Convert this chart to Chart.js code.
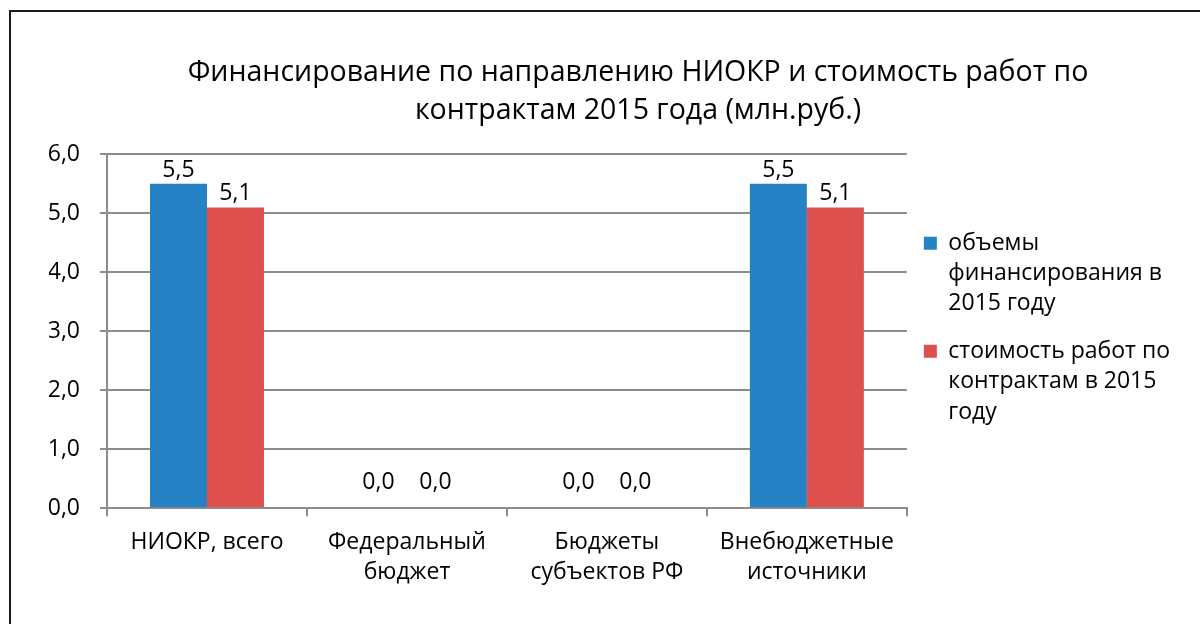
<!DOCTYPE html>
<html>
<head>
<meta charset="utf-8">
<script src="https://cdn.jsdelivr.net/npm/chart.js@4/dist/chart.umd.min.js"></script>
<style>
  html, body { margin: 0; padding: 0; background: #fff; overflow: hidden; }
  #frame { position: absolute; left: 9px; top: 10px; border-left: 2px solid #1a1a1a; border-top: 2px solid #1a1a1a; }
  #box { width: 1254px; height: 612px; }
</style>
</head>
<body>
<div id="frame"><div id="box"><canvas id="chart"></canvas></div></div>
<script>
const categories = [
  ['НИОКР, всего'],
  ['Федеральный', 'бюджет'],
  ['Бюджеты', 'субъектов РФ'],
  ['Внебюджетные', 'источники'],
];
const fundingValues = [5.5, 0.0, 0.0, 5.5];
const contractValues = [5.1, 0.0, 0.0, 5.1];
const seriesNames = ['объемы финансирования в 2015 году', 'стоимость работ по контрактам в 2015 году'];
const legendLines = [
  ['объемы', 'финансирования в', '2015 году'],
  ['стоимость работ по', 'контрактам в 2015', 'году'],
];
const titleLines = ['Финансирование по направлению НИОКР и стоимость работ по', 'контрактам 2015 года (млн.руб.)'];
const yMin = 0, yMax = 6, yStep = 1;

const FONT = "'Open Sans', 'Noto Sans', sans-serif";
const fmt = (v) => Number(v).toFixed(1).replace('.', ',');

// value labels above the bars
const barLabels = {
  id: 'barLabels',
  afterDatasetsDraw(chart) {
    const ctx = chart.ctx;
    ctx.save();
    ctx.font = '23px ' + FONT;
    ctx.fillStyle = '#000';
    ctx.textAlign = 'center';
    ctx.textBaseline = 'alphabetic';
    chart.data.datasets.forEach((ds, i) => {
      chart.getDatasetMeta(i).data.forEach((bar, j) => {
        const v = ds.data[j];
        ctx.fillText(fmt(v), bar.x, bar.y - (v === 0 ? 19 : 7));
      });
    });
    ctx.restore();
  },
};

// title is centred on the whole frame, not on the padded area
const centerTitle = {
  id: 'centerTitle',
  afterLayout(chart) {
    const t = chart.titleBlock;
    if (t) { t.left = 0; t.right = chart.width; t.width = chart.width; }
  },
};

new Chart(document.getElementById('chart'), {
  type: 'bar',
  data: {
    labels: categories,
    datasets: [
      { label: seriesNames[0], data: fundingValues, backgroundColor: '#2582c4', categoryPercentage: 0.57, barPercentage: 1.0 },
      { label: seriesNames[1], data: contractValues, backgroundColor: '#de504e', categoryPercentage: 0.57, barPercentage: 1.0 },
    ],
  },
  options: {
    responsive: true,
    maintainAspectRatio: false,
    animation: false,
    layout: { padding: { left: 38, right: 85, bottom: 26, top: 0 } },
    plugins: {
      tooltip: { enabled: false },
      title: {
        display: true,
        text: titleLines,
        color: '#000',
        font: { family: FONT, size: 28.5, weight: 'normal', lineHeight: 1.34 },
        padding: { top: 42, bottom: 24 },
      },
      legend: {
        position: 'right',
        fullSize: false,
        align: 'center',
        labels: {
          color: '#000',
          font: { family: FONT, size: 23, lineHeight: 1.32 },
          boxWidth: 13,
          boxHeight: 13,
          padding: 17,
          generateLabels(chart) {
            const items = Chart.defaults.plugins.legend.labels.generateLabels(chart);
            items.forEach((it, i) => { it.text = legendLines[i]; it.lineWidth = 0; });
            return items;
          },
        },
      },
    },
    scales: {
      x: {
        grid: { offset: true, drawOnChartArea: false, drawTicks: true, tickLength: 8, color: '#8c8c8c', lineWidth: 2 },
        border: { display: true, color: '#8c8c8c', width: 2 },
        ticks: { color: '#000', font: { family: FONT, size: 23, lineHeight: 1.3 }, maxRotation: 0, autoSkip: false, padding: 11 },
      },
      y: {
        min: yMin,
        max: yMax,
        afterFit(scale) { scale.width = 58; },
        grid: { color: '#8c8c8c', lineWidth: 2, tickLength: 7 },
        border: { display: true, color: '#8c8c8c', width: 2 },
        ticks: { stepSize: yStep, color: '#000', font: { family: FONT, size: 23 }, padding: 20, callback: (v) => fmt(v) },
      },
    },
  },
  plugins: [barLabels, centerTitle],
});
</script>
</body>
</html>
